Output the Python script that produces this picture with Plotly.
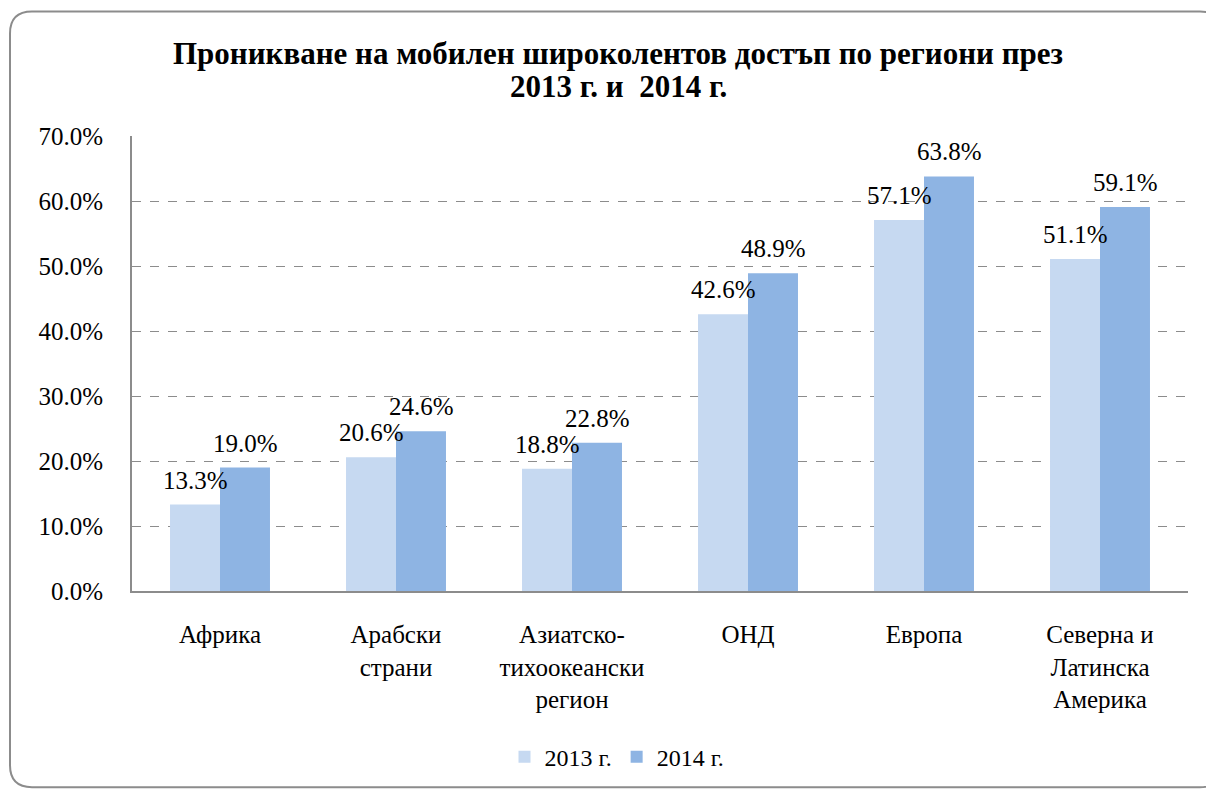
import plotly.graph_objects as go

categories = ["Африка", "Арабски<br>страни", "Азиатско-<br>тихоокеански<br>регион",
              "ОНД", "Европа", "Северна и<br>Латинска<br>Америка"]
series_names = ["2013 г.", "2014 г."]
values_2013 = [13.3, 20.6, 18.8, 42.6, 57.1, 51.1]
values_2014 = [19.0, 24.6, 22.8, 48.9, 63.8, 59.1]
y_ticks = [0, 10, 20, 30, 40, 50, 60, 70]
y_tick_labels = [f"{v:.1f}%" for v in y_ticks]
title_line1 = "Проникване на мобилен широколентов достъп по региони през"
title_line2 = "2013 г. и  2014 г."
colors = ["#C6D9F1", "#8EB4E3"]

W, H = 1206, 792
L, R, T, B = 132, 1188, 136, 593
FONT = "Liberation Serif"

fig = go.Figure()
for name, vals, col in zip(series_names, [values_2013, values_2014], colors):
    fig.add_trace(go.Bar(x=categories, y=vals, name=name, marker=dict(color=col, line=dict(width=0))))

# data labels
for vals, shift in [(values_2013, -25), (values_2014, 25)]:
    for c, v in zip(categories, vals):
        fig.add_annotation(x=c, y=v, xref="x", yref="y", text=f"{v:.1f}%", showarrow=False,
                           yanchor="bottom", xshift=shift, yshift=9,
                           font=dict(family=FONT, size=25, color="#000"))


def px(x):
    return (x - L) / (R - L)


def py(y):
    return (B - y) / (B - T)


# second title line
fig.add_annotation(x=px(618), y=py(86), xref="paper", yref="paper", text=f"<b>{title_line2}</b>",
                   showarrow=False, xanchor="center", yanchor="middle",
                   font=dict(family=FONT, size=31, color="#000"))

# rounded outer frame (page pixel coordinates)
x0, y0, x1, y1, r = 10, 11, 1222, 790, 22
path = (f"M {px(x0)},{py(y0 + r)} L {px(x0)},{py(y1 - r)} "
        f"Q {px(x0)},{py(y1)} {px(x0 + r)},{py(y1)} L {px(x1 - r)},{py(y1)} "
        f"Q {px(x1)},{py(y1)} {px(x1)},{py(y1 - r)} L {px(x1)},{py(y0 + r)} "
        f"Q {px(x1)},{py(y0)} {px(x1 - r)},{py(y0)} L {px(x0 + r)},{py(y0)} "
        f"Q {px(x0)},{py(y0)} {px(x0)},{py(y0 + r)} Z")
fig.add_shape(type="path", path=path, xref="paper", yref="paper",
              line=dict(color="#8C8C8C", width=2), layer="below")

fig.update_layout(
    width=W, height=H,
    margin=dict(l=L, r=W - R, t=T, b=H - B),
    paper_bgcolor="white", plot_bgcolor="white",
    barmode="group", bargap=0.432, bargroupgap=0,
    font=dict(family=FONT, size=25, color="#000"),
    title=dict(text=f"<b>{title_line1}</b>",
               x=618 / W, xanchor="center", y=1 - 53 / H, yanchor="middle", yref="container",
               font=dict(family=FONT, size=31, color="#000")),
    yaxis=dict(range=[0, 70.02], tickvals=y_ticks, ticktext=y_tick_labels,
               showgrid=True, gridcolor="#8C8C8C", griddash="dash", gridwidth=1,
               showline=True, linecolor="#8C8C8C", linewidth=2, zeroline=False,
               ticks="", tickfont=dict(size=25), ticklabelstandoff=22),
    xaxis=dict(showline=True, linecolor="#8C8C8C", linewidth=2, ticks="",
               tickfont=dict(size=25), ticklabelstandoff=20),
    legend=dict(orientation="h", x=px(617), xanchor="center", y=py(760), yanchor="middle",
                font=dict(size=24), itemwidth=30, traceorder="normal"),
    showlegend=True,
)

fig.write_html("out.html", config={"displayModeBar": False},
               post_script="document.body.style.margin='0';document.body.style.overflow='hidden';")
